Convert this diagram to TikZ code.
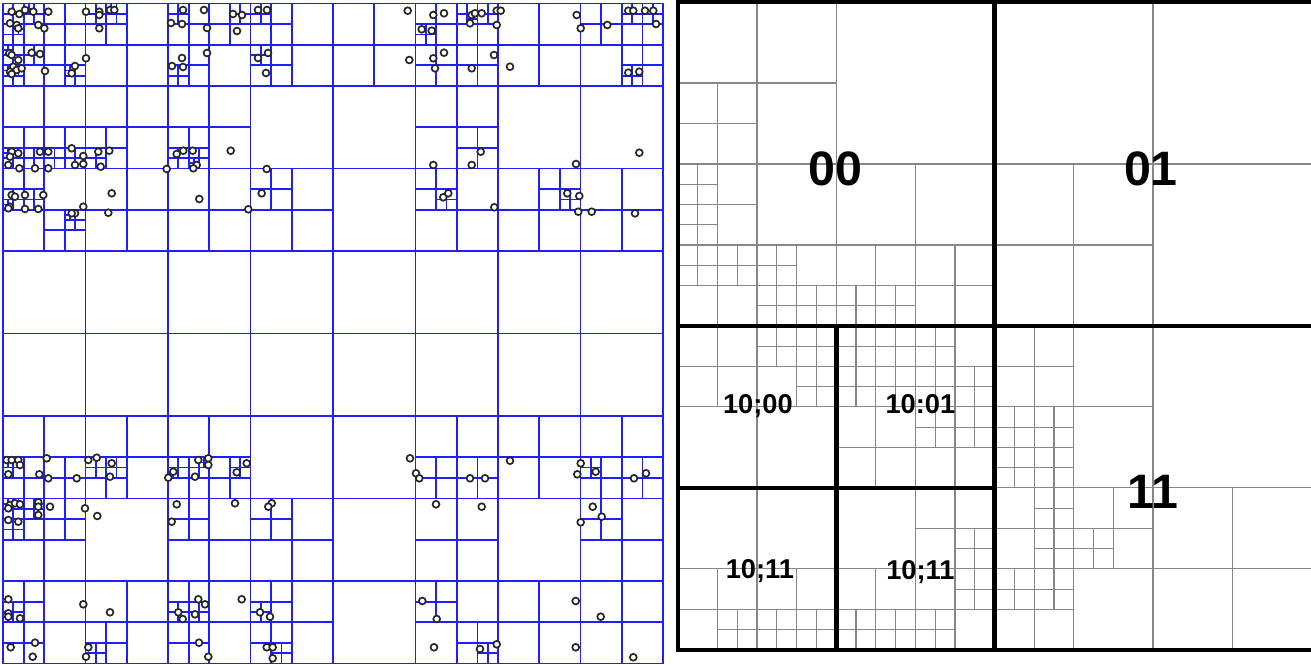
\documentclass[tikz,border=0pt]{standalone}
\usepackage{fontspec}
\setmainfont{Liberation Sans}
\usepackage{tikz}
\usetikzlibrary{positioning}

\definecolor{treeblue}{RGB}{30,30,255}
\definecolor{cellgray}{RGB}{135,135,135}

\tikzset{
  treeline/.style={treeblue, line width=1pt},
  ptdot/.style={draw=black!85, fill=white, line width=0.95pt},
  cellline/.style={cellgray, line width=0.65pt},
  blockline/.style={black, line width=2.6pt},
  bigcode/.style={anchor=base, inner sep=0pt, font=\fontsize{27.5}{30}\selectfont\bfseries},
  subcode/.style={anchor=base, inner sep=0pt, font=\fontsize{15.5}{17}\selectfont\bfseries}
}

% point quadtree: a cell with more than one point is cut in four
\newcount\qtn
\newdimen\qtxa \newdimen\qtxb \newdimen\qtya \newdimen\qtyb
\def\qtmax{7}
\def\qtend{\qtend}
\def\qtfilter#1#2#3#4{%
  \qtxa=#1pt \qtya=#2pt
  \qtxb=\dimexpr\qtxa+#3pt\relax \qtyb=\dimexpr\qtya+#3pt\relax
  \def\qtout{}\qtn=0
  \qtloop#4\qtend/0;}
\def\qtloop#1/#2;{%
  \ifx\qtend#1\else
    \ifdim#1pt<\qtxa\else\ifdim#1pt<\qtxb
      \ifdim#2pt<\qtya\else\ifdim#2pt<\qtyb
        \edef\qtout{\qtout#1/#2;}\advance\qtn by 1
      \fi\fi
    \fi\fi
    \expandafter\qtloop
  \fi}
\def\qtnode#1#2#3#4#5{%
  \begingroup
  \qtfilter{#1}{#2}{#3}{#5}%
  \ifnum\qtn>1
   \ifnum#4<\qtmax\relax
    \pgfmathsetmacro\qth{#3/2}%
    \pgfmathsetmacro\qtmx{#1+\qth}%
    \pgfmathsetmacro\qtmy{#2+\qth}%
    \draw[treeline] (\qtmx,#2) -- ++(0,#3) (#1,\qtmy) -- ++(#3,0);
    \qtchild{#1}{#2}{\qth}{#4}{#5}%
    \qtchild{\qtmx}{#2}{\qth}{#4}{#5}%
    \qtchild{#1}{\qtmy}{\qth}{#4}{#5}%
    \qtchild{\qtmx}{\qtmy}{\qth}{#4}{#5}%
   \fi
  \fi
  \endgroup}
\def\qtchild#1#2#3#4#5{%
  \qtfilter{#1}{#2}{#3}{#5}%
  \edef\qtnext{\noexpand\qtnode{#1}{#2}{#3}{\the\numexpr#4+1\relax}{\qtout}}%
  \qtnext}
\def\qtdots#1/#2;{%
  \ifx\qtend#1\else
    \filldraw[ptdot] (#1,#2) circle[radius=1.95pt];
    \expandafter\qtdots
  \fi}

% the points, in pixels of the picture
\def\qtpts{%
11.7/11.7;19.3/14;25/10;33.3/11.7;48.3/11.7;10/23.3;16.7/25;18.3/28.3;38.3/25;44.3/28.3;%
86/11.7;99.3/11.7;110/10;114.3/10;99.3/15;99.3/28.3;%
9.3/53.3;11.7/55;18.3/60;31.7/52.7;40/54;13.3/66.7;16.7/70;10/71.7;21.7/68.3;11.7/74;45/71;71.7/73.3;75/66;86/58.3;%
183/10;204/10;233/14;242/15;258/10;267/10;171/23;182/24;207/28;237/31;%
182/58;172/66;183/67;207/53;258/58;268/53;266/73;%
176.7/154;183.3/150.7;192.7/150.7;196.7/165;193.3/168.3;166.7/169;230.7/150.7;266.7/169;%
199.3/199;248.3/209.3;261.7/193.3;%
11.7/151.7;18.3/153.3;10/156.7;8.3/165;19.3/168.3;35/168.3;48.3/168.3;40/151.7;48.3/151.7;%
71.7/148.3;83.3/156;75/165;83.3/164;100.7/166.7;98.3/151.7;109.3/150.7;%
11.7/195;15/196.7;25/195;43.3/195;10/206.7;8.3/208.3;25/209;38.3/209;%
83.3/206.7;75/213.3;71.7/213.3;111.7/193.3;108.3/212.7;%
407.7/10.7;433.3/15;444/13.3;471.7/15;475/13.3;481.7/13.3;470/23.3;496.7/10.7;500.7/10.7;496.7/25;%
421.7/29.3;431.7/30.7;576.7/15;580.7/28.3;607.3/25;628.3/10.7;633.3/10.7;645/10.7;653.3/10.7;656/24;%
409.3/60;433.3/58.3;444/52.7;435/68.3;471.7/68.3;494/55;510/66.7;628.3/72.7;639.3/71.7;%
480.7/151.7;639.3/152.7;433.3/165;471.7/165;576/164;443.3/197.3;448.3/193.3;494.3/207.3;%
567.3/193.3;579.3/196;578.3/211.7;591.7/211.7;635/213.3;%
6.7/460;11.7/460;18.3/460;20/465;46.7/458.3;8.3/474.3;39.3/474.3;48.3/478.3;76.7/478.3;%
88.3/460;96.7/457.7;111.7/463.3;110/476.7;%
10/505;15/503.3;20/504.3;8.3/508.3;38.3/502.3;38.3/506.7;50/506.7;38.3/515;85/508.3;97.3/516;8.3/520;18.3/521.7;%
8.3/599.3;8.3/613.3;8.3/616.7;20/618.3;83.3/604.3;110/612.3;35/642.7;10.7/647.3;32.7/656.7;88.3/647.3;86/656.7;%
198.3/460;208.3/458.3;208.3/465;246.7/463.3;236.7/472.3;173.3/471.7;168.3/477.7;195/476.7;%
176.7/504.3;171.7/521.7;235/503.3;271.7/503.3;268.3/506.7;%
198.3/599.3;205/604.3;241.7/599.3;178.3/612.3;182.7/619;195/614.3;260/612.3;270/616.7;%
199/642.7;208.3/656.7;266.7/647.3;272.7/647.3;272.7/658.3;%
410/458.3;416/473.3;419.3/478.3;470/478.3;485/478.3;510/460.7;436/504.3;481.7/506.7;%
580.7/463.3;577.3/474.3;595.7/471.7;634/478.3;646/473.3;592.7/506.7;601.7/516.7;580.7/522.3;%
422.3/601;436.7/619;434/647.3;480/649;496.7/644.3;575.7/601;600.7/616.7;575.7/647.3;633.3/657.3;}

\begin{document}
\begin{tikzpicture}[x=0.02cm, y=-0.02cm]
  \useasboundingbox (0,0) rectangle (1311,665);
  \fill[white] (0,0) rectangle (1311,665);

  % left: the point quadtree and its points
  \draw[treeline] (3,3.5) rectangle (663,663.5);
  \edef\qtgo{\noexpand\qtnode{3}{3.5}{660}{0}{\qtpts}}\qtgo
  \expandafter\qtdots\qtpts\qtend/0;

  % right: region quadtree, one unit = 1/32 of the side
  \begin{scope}[shift={(13.56cm,-0.04cm)}, x=0.396cm, y=-0.405cm]
    % each split cell: x/y/size, cut in four
    \foreach \x/\y/\s in {0/0/16, 0/0/8, 0/4/4, 0/8/8, 0/8/4, 0/8/2, 0/10/2, 0/12/4, 0/12/2,
        2/12/2, 4/12/4, 4/12/2, 4/14/2, 6/14/2, 8/8/8, 8/12/4, 8/14/2, 10/14/2, 12/12/4,
        16/0/16, 16/8/8,
        0/16/8, 0/16/4, 4/16/4, 4/16/2, 6/16/2, 6/18/2,
        8/16/8, 8/16/4, 8/16/2, 10/16/2, 8/18/2, 10/18/2, 12/16/4, 12/16/2, 12/18/2,
        14/18/2, 8/20/4, 12/20/4, 12/20/2, 14/20/2,
        0/24/8, 0/28/4, 2/30/2, 4/28/4, 4/30/2, 6/30/2,
        8/24/8, 12/24/4, 14/26/2, 8/28/4, 8/30/2, 10/30/2, 12/28/4, 14/28/2, 12/30/2,
        16/16/16, 16/16/8, 16/16/4, 16/20/4, 16/20/2, 18/20/2, 16/22/2, 18/22/2,
        16/24/8, 16/24/4, 18/24/2, 18/26/2, 20/24/4, 20/26/2, 16/28/4, 16/28/2,
        18/28/2, 24/24/8}
      \draw[cellline] (\x+\s/2,\y) -- ++(0,\s) (\x,\y+\s/2) -- ++(\s,0);

    \draw[blockline] (32,0) -- (0,0) -- (0,32) -- (32,32);
    \draw[blockline] (16,0) -- (16,32) (0,16) -- (32,16);
    \draw[blockline] (8,16) -- (8,32) (0,24) -- (16,24);

    \node[bigcode] (c00) at (7.98,9.04) {00};
    \node[bigcode] (c01) at (23.9,9.04) {01};
    \node[bigcode] (c11) at (24,25) {11};
    \node[subcode] (c1000) at (4.04,20.31) {10;00};
    \node[subcode] (c1001) at (12.25,20.31) {10:01};
    \node[subcode] (c1011a) at (4.14,28.46) {10;11};
    \node[subcode] (c1011b) at (12.25,28.54) {10;11};
  \end{scope}
\end{tikzpicture}
\end{document}
